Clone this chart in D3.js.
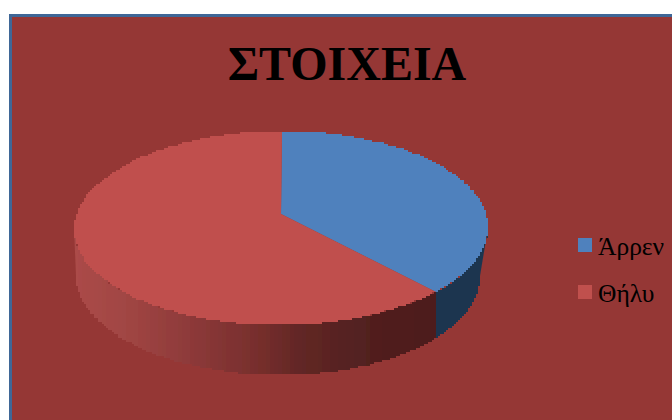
<!DOCTYPE html>
<html><head><meta charset="utf-8">
<script src="https://cdn.jsdelivr.net/npm/d3@7"></script>
<style>html,body{margin:0;padding:0;background:#fff}svg{display:block}text{font-family:"Liberation Serif","Times New Roman",serif;fill:#000}</style>
</head><body><svg id="c" width="672" height="420"></svg>
<script>
const categories=["Άρρεν","Θήλυ"];
const values=[36.5,63.5];
const topColors=["#4f81bd","#c0504d"];
const titleText="ΣΤΟΙΧΕΙΑ";
const W=672,H=420,cx=281,cy=228,rx=207,ry=97,apexY=214;
const bcx=278,bcy=276,brx=202,bry=99,grid=2,bandW=4;
const svg=d3.select("#c");
svg.append("rect").attr("x",9).attr("y",14).attr("width",W).attr("height",H).attr("fill","#3f6797");
svg.append("rect").attr("x",12).attr("y",17).attr("width",W).attr("height",H).attr("fill","#953735");
const defs=svg.append("defs");
defs.append("filter").attr("id","soft").attr("x","-5%").attr("y","-5%").attr("width","110%").attr("height","110%")
  .append("feGaussianBlur").attr("stdDeviation",0.6);
const topPt=a=>[cx+rx*Math.sin(a),cy-ry*Math.cos(a)];
const botPt=a=>[bcx+brx*Math.sin(a),bcy-bry*Math.cos(a)];
const q=v=>Math.round(v/grid)*grid;
const sample=(a0,a1,f,n=160)=>d3.range(n+1).map(i=>f(a0+(a1-a0)*i/n)).map(p=>[q(p[0]),q(p[1])]);
const step=d3.line().curve(d3.curveStepAfter);
const arcs=d3.pie().sort(null).value(d=>d)(values);
const blue=arcs[0];
const wallRight=topPt(blue.endAngle)[0];
// angle on the lower ellipse that sits straight below the slice boundary
const botEnd=Math.PI-Math.asin((wallRight-bcx)/brx);
const wallPath=(a0,a1,b0,b1)=>step(sample(a0,a1,topPt))+"L"+step(sample(b1,b0,botPt)).slice(1)+"Z";
const pie=svg.append("g").attr("filter","url(#soft)");
pie.append("path").attr("d",wallPath(Math.PI/2,blue.endAngle,Math.PI/2,botEnd)).attr("fill","#1f3650");
defs.append("clipPath").attr("id","redWall").append("path").attr("d",wallPath(blue.endAngle,3*Math.PI/2,botEnd,3*Math.PI/2));
const redShade=d3.scaleLinear().domain([75,130,200,260,300,360,436])
  .range(["#ab4b48","#a04543","#8a3838","#762e2c","#622725","#522020","#4d1c1a"]);
const wallLeft=cx-rx;
pie.append("g").attr("clip-path","url(#redWall)").selectAll("rect")
 .data(d3.range(wallLeft,wallRight,bandW)).join("rect")
 .attr("x",d=>d).attr("y",cy).attr("width",bandW+0.5).attr("height",bcy+bry-cy+2)
 .attr("fill",d=>redShade(d+bandW/2));
pie.append("g").selectAll("path").data(arcs).join("path")
 .attr("d",d=>{
   const r=sample(d.startAngle,d.endAngle,topPt);
   return "M"+cx+","+apexY+"L"+step(r).slice(1)+"Z";
 })
 .attr("fill",(d,i)=>topColors[i]);
svg.append("text").attr("x",347).attr("y",80).attr("text-anchor","middle").attr("font-size",48).attr("font-weight","bold").text(titleText);
const lg=svg.append("g").selectAll("g").data(categories).join("g").attr("transform",(d,i)=>`translate(578,${238+i*47})`);
lg.append("rect").attr("width",14).attr("height",14).attr("fill",(d,i)=>topColors[i]);
lg.append("text").attr("x",20).attr("y",16.5).attr("font-size",25.5).text(d=>d);
</script></body></html>
